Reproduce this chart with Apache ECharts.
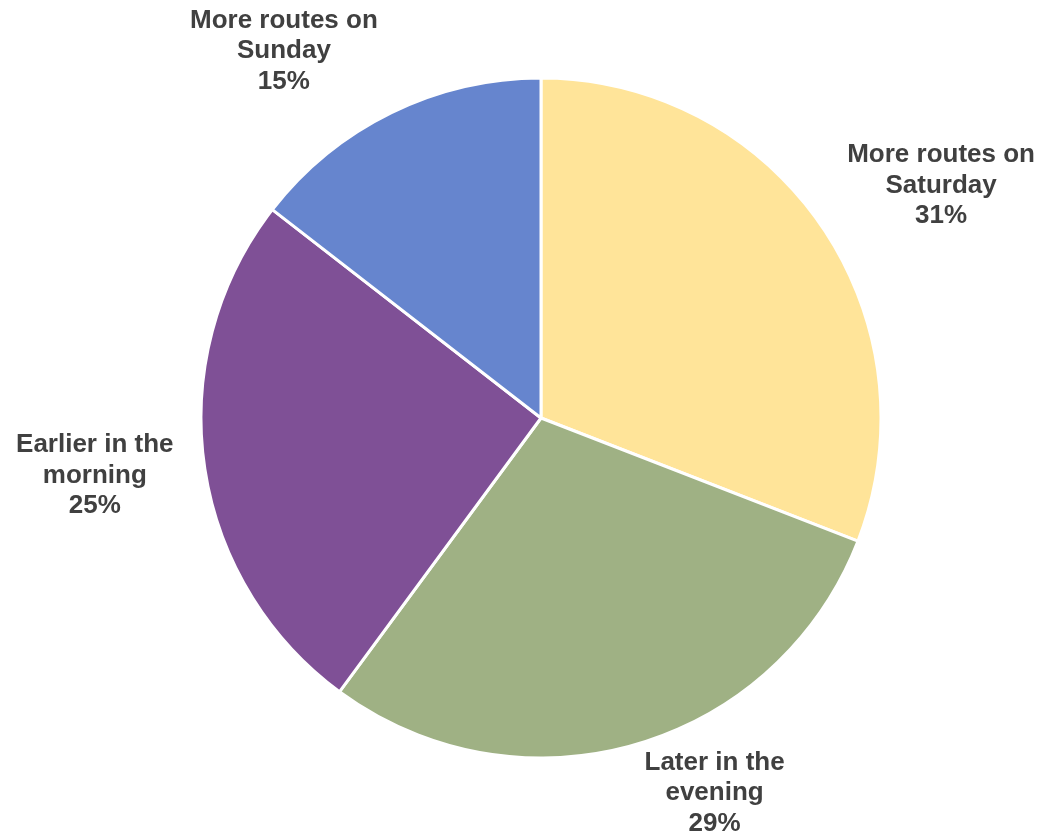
<!DOCTYPE html>
<html>
<head>
<meta charset="utf-8">
<script src="https://cdn.jsdelivr.net/npm/echarts@6/dist/echarts.min.js"></script>
<style>
html, body { margin: 0; padding: 0; background: #fff; }
#chart { width: 1055px; height: 835px; }
</style>
</head>
<body>
<div id="chart"></div>
<script>
// slices, clockwise from 12 o'clock
var names = ['More routes on\nSaturday', 'Later in the\nevening', 'Earlier in the\nmorning', 'More routes on\nSunday'];
var shares = [30.9, 29.2, 25.4, 14.5];
var palette = ['#FFE499', '#9FB184', '#7F5096', '#6685CE'];

var cx = 541, cy = 418, R = 340, gap = 31;
var total = shares.reduce(function (a, b) { return a + b; }, 0);

// middle angle of a slice (radians, clockwise from top)
function midAngle(i) {
	var before = 0;
	for (var j = 0; j < i; j++) before += shares[j];
	return (before + shares[i] / 2) / total * 2 * Math.PI;
}

var chart = echarts.init(document.getElementById('chart'));
chart.setOption({
	backgroundColor: '#fff',
	animation: false,
	color: palette,
	series: [{
		type: 'pie',
		center: [cx, cy],
		radius: R,
		startAngle: 90,
		clockwise: true,
		data: names.map(function (n, i) { return { name: n, value: shares[i] }; }),
		itemStyle: { borderColor: '#fff', borderWidth: 3 },
		label: {
			show: true,
			position: 'outside',
			overflow: 'none',
			formatter: function (p) { return p.name + '\n' + Math.round(p.percent) + '%'; },
			color: '#404040',
			fontFamily: 'Liberation Sans, Arial, sans-serif',
			fontWeight: 'bold',
			fontSize: 26,
			lineHeight: 30.5
		},
		labelLine: { show: false },
		// put labels beside the slice like the office chart does
		labelLayout: function (p) {
			var a = midAngle(p.dataIndex);
			var s = Math.sin(a), c = Math.cos(a);
			var w = p.labelRect.width, h = p.labelRect.height;
			var px = cx + (R + gap) * s, py = cy - (R + gap) * c;
			var k = c > 0 ? (c > 0.8 ? 0.82 : 0.88) : (c < -0.8 ? 0.43 : 1);
			return {
				x: px + (s >= 0 ? 1 : -1) * w / 2,
				y: py - c * k * h / 2,
				align: 'center',
				verticalAlign: 'middle'
			};
		}
	}]
});
</script>
</body>
</html>
